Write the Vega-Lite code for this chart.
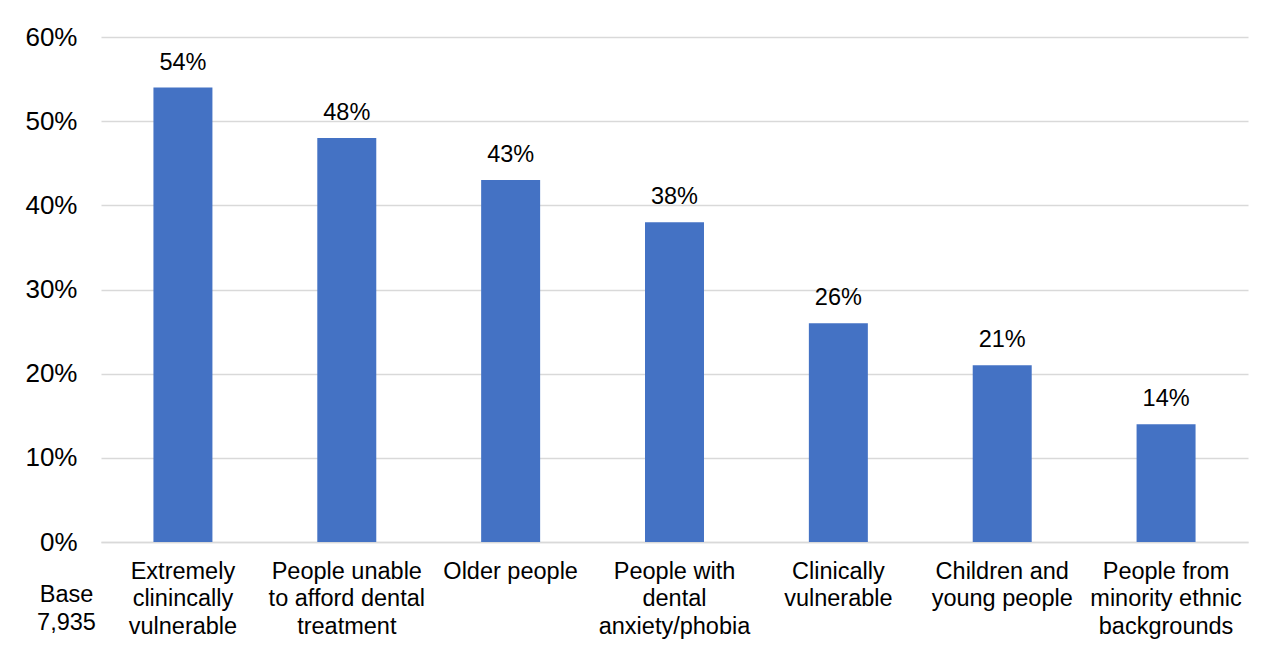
{
  "$schema": "https://vega.github.io/schema/vega-lite/v6.json",
  "autosize": {"type": "none"},
  "padding": {"left": 101, "top": 37, "right": 25, "bottom": 108},
  "width": 1147,
  "height": 505,
  "background": "white",
  "config": {
    "view": {"stroke": null},
    "font": "Liberation Sans",
    "axis": {"labelFont": "Liberation Sans", "titleFont": "Liberation Sans", "labelColor": "#000000", "titleColor": "#000000"}
  },
  "data": {
    "values": [
      {"group": "Extremely|clinincally|vulnerable", "pct": 54},
      {"group": "People unable|to afford dental|treatment", "pct": 48},
      {"group": "Older people", "pct": 43},
      {"group": "People with|dental|anxiety/phobia", "pct": 38},
      {"group": "Clinically|vulnerable", "pct": 26},
      {"group": "Children and|young people", "pct": 21},
      {"group": "People from|minority ethnic|backgrounds", "pct": 14}
    ]
  },
  "transform": [{"calculate": "datum.pct + '%'", "as": "label"}],
  "encoding": {
    "x": {
      "field": "group",
      "type": "nominal",
      "sort": null,
      "scale": {"paddingInner": 0.64, "paddingOuter": 0.32},
      "axis": {
        "title": null,
        "labelAngle": 0,
        "labelExpr": "split(datum.label, '|')",
        "labelFontSize": 23.5,
        "labelLineHeight": 27.5,
        "labelPadding": 17,
        "labelBaseline": "top",
        "labelLimit": 0,
        "ticks": false,
        "domainColor": "#d9d9d9",
        "domainWidth": 1.5
      }
    },
    "y": {
      "field": "pct",
      "type": "quantitative",
      "scale": {"domain": [0, 60]},
      "axis": {
        "values": [0, 10, 20, 30, 40, 50, 60],
        "labelExpr": "datum.value + '%'",
        "labelFontSize": 26,
        "labelPadding": 24,
        "ticks": false,
        "domain": false,
        "gridColor": "#d9d9d9",
        "gridWidth": 1.5,
        "title": ["Base", "7,935"],
        "titleAngle": 0,
        "titleFontSize": 23.5,
        "titleFontWeight": "normal",
        "titleLineHeight": 28,
        "titleAlign": "center",
        "titleBaseline": "middle",
        "titleX": -35,
        "titleY": 557
      }
    }
  },
  "layer": [
    {"mark": {"type": "bar", "color": "#4472C4"}},
    {
      "mark": {"type": "text", "baseline": "bottom", "dy": -13, "fontSize": 23.5, "color": "#000000"},
      "encoding": {"text": {"field": "label", "type": "nominal"}}
    }
  ]
}
